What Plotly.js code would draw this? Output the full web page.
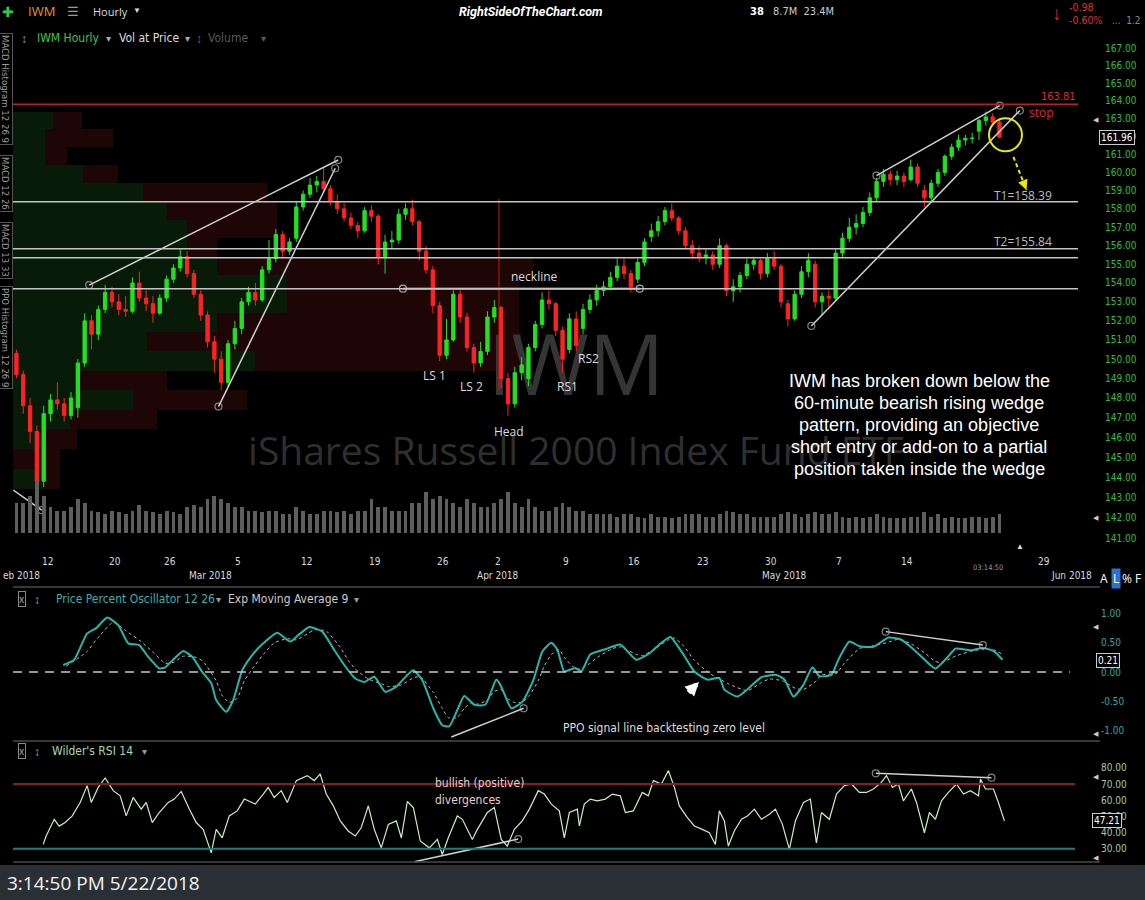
<!DOCTYPE html>
<html><head><meta charset="utf-8">
<script src="https://cdn.plot.ly/plotly-3.0.1.min.js"></script>
<style>html,body{margin:0;padding:0;background:#000;}#chart{width:1145px;height:900px;}</style>
</head><body><div id="chart"></div>
<script>
// ---------------- DATA ----------------
const tradingDays = ['2018-02-07','2018-02-08','2018-02-09','2018-02-12','2018-02-13','2018-02-14','2018-02-15','2018-02-16','2018-02-20','2018-02-21','2018-02-22','2018-02-23','2018-02-26','2018-02-27','2018-02-28','2018-03-01','2018-03-02','2018-03-05','2018-03-06','2018-03-07','2018-03-08','2018-03-09','2018-03-12','2018-03-13','2018-03-14','2018-03-15','2018-03-16','2018-03-19','2018-03-20','2018-03-21','2018-03-22','2018-03-23','2018-03-26','2018-03-27','2018-03-28','2018-03-29','2018-04-02','2018-04-03','2018-04-04','2018-04-05','2018-04-06','2018-04-09','2018-04-10','2018-04-11','2018-04-12','2018-04-13','2018-04-16','2018-04-17','2018-04-18','2018-04-19','2018-04-20','2018-04-23','2018-04-24','2018-04-25','2018-04-26','2018-04-27','2018-04-30','2018-05-01','2018-05-02','2018-05-03','2018-05-04','2018-05-07','2018-05-08','2018-05-09','2018-05-10','2018-05-11','2018-05-14','2018-05-15','2018-05-16','2018-05-17','2018-05-18','2018-05-21','2018-05-22'];
const futureDays = ['2018-05-23','2018-05-24','2018-05-25','2018-05-29','2018-05-30','2018-05-31','2018-06-01'];

// half-day bars (first bar = Feb 7 afternoon)
const open  = [150.3,149.2,147.6,146.3,143.8,147.2,147.9,147.7,147.1,147.5,149.8,152.0,151.3,152.6,153.5,153.0,152.6,152.5,154.0,153.2,152.9,152.4,153.2,154.2,154.8,155.4,154.5,153.4,152.3,150.9,150.0,148.8,150.8,151.6,153.0,153.5,153.1,154.7,155.3,156.6,155.7,156.4,158.1,158.8,159.3,159.5,159.1,158.4,158.0,157.5,157.1,156.8,157.9,157.6,155.4,156.2,156.3,157.7,158.0,157.3,155.7,154.7,152.8,150.2,151.0,153.4,152.2,150.6,149.8,150.4,152.2,152.7,149.0,147.7,149.3,149.0,150.6,151.8,153.1,152.9,151.5,150.5,152.1,151.6,152.6,153.1,153.6,153.8,154.3,154.9,154.5,154.2,155.1,156.5,156.8,157.3,157.9,157.5,156.8,156.0,155.6,155.4,155.5,155.0,156.0,153.6,153.8,154.4,155.0,155.2,154.5,155.3,154.9,152.9,152.1,153.4,154.6,155.0,153.0,153.3,153.2,155.6,156.4,157.0,157.2,157.8,158.6,159.5,159.9,159.6,159.8,159.6,160.3,159.0,158.6,159.4,160.0,160.9,161.4,161.8,161.9,162.3,162.9,163.1,162.8];
const high  = [150.5,149.4,148.0,146.6,147.6,148.2,148.8,148.0,148.3,150.0,152.4,152.3,152.8,153.9,153.8,153.4,153.3,154.3,154.6,153.6,153.3,153.4,154.4,155.0,155.8,155.7,154.7,153.6,152.5,151.2,150.4,151.0,152.0,153.2,153.8,154.0,154.9,156.3,156.9,156.8,156.4,158.4,159.0,159.7,159.8,160.3,159.3,158.8,158.3,157.8,157.3,158.1,158.2,157.7,156.6,156.8,158.0,158.3,158.5,157.4,156.0,154.9,153.0,152.1,153.6,153.6,152.4,150.8,150.9,152.5,153.1,152.8,149.3,149.6,150.1,150.8,152.0,153.5,153.6,153.0,151.7,152.4,152.5,152.9,153.4,153.9,154.1,154.6,155.3,155.3,154.7,155.3,156.4,157.2,157.6,158.1,158.3,157.6,157.0,156.3,156.0,155.8,155.7,156.4,156.1,154.2,154.6,155.3,155.4,155.3,155.6,155.7,155.0,153.1,153.6,154.9,155.6,155.2,153.5,153.6,155.8,156.7,157.5,157.7,158.1,158.9,159.7,160.2,160.1,160.1,160.0,160.7,160.5,159.3,159.6,160.2,161.0,161.6,162.1,162.1,162.2,163.0,163.4,163.3,163.0];
const low   = [149.0,147.2,145.7,142.8,143.5,146.8,147.4,146.8,146.9,147.0,149.6,150.5,151.0,152.4,152.7,152.3,152.2,152.4,153.0,152.5,151.9,152.3,153.0,154.0,154.6,154.3,153.2,152.0,150.6,149.3,148.4,148.6,150.5,151.3,152.8,152.8,153.0,154.5,155.1,155.4,155.5,156.2,157.9,158.6,158.9,158.9,158.2,157.7,157.3,156.9,156.4,156.7,157.3,155.0,154.5,155.8,156.1,157.4,157.1,155.2,154.5,152.4,149.9,150.0,150.9,151.9,150.4,149.3,149.6,150.2,151.9,148.5,147.1,147.5,148.9,148.6,150.4,151.6,152.6,151.2,149.3,150.3,150.4,151.3,152.4,152.8,153.3,153.6,154.1,154.2,153.5,154.0,154.9,156.2,156.5,157.1,157.3,156.6,155.8,155.3,155.1,155.0,154.7,154.8,153.3,153.0,153.5,154.2,154.7,154.2,154.3,154.7,152.7,151.7,152.0,153.2,154.3,152.7,152.3,152.6,153.0,155.4,156.2,156.6,157.0,157.6,158.4,159.2,159.3,159.3,159.2,159.5,159.2,158.1,158.4,159.2,159.8,160.7,161.2,161.5,161.6,161.8,162.6,162.6,161.9];
const close = [149.2,147.6,146.3,143.8,147.2,147.9,147.7,147.1,148.0,149.8,152.0,151.3,152.6,153.5,153.0,152.6,152.5,154.0,153.2,152.9,152.4,153.2,154.2,154.8,155.4,154.5,153.4,152.3,150.9,150.0,148.8,150.8,151.6,153.0,153.5,153.1,154.7,155.3,156.6,155.7,156.2,158.1,158.8,159.3,159.5,159.1,158.4,158.0,157.5,157.1,156.8,157.9,157.6,155.4,156.2,156.3,157.7,158.0,157.3,155.7,154.7,152.8,150.2,151.0,153.4,152.2,150.6,149.8,150.4,152.2,152.7,149.0,147.7,149.3,149.7,150.6,151.8,153.1,152.9,151.5,150.0,152.1,150.7,152.6,153.1,153.6,153.8,154.3,154.9,154.5,153.8,155.1,156.2,156.8,157.3,157.9,157.5,156.8,156.0,155.6,155.4,155.5,155.0,156.0,153.6,153.8,154.4,155.0,155.2,154.5,155.3,154.9,153.0,152.1,153.4,154.6,155.2,153.0,153.3,153.2,155.6,156.4,157.0,157.2,157.8,158.6,159.5,159.9,159.6,159.8,159.5,160.3,159.4,158.6,159.4,160.0,160.9,161.4,161.8,161.9,161.9,162.9,163.1,162.8,161.96];
// average hourly volume in each half-day (millions of shares)
const volume = [6.0,6.0,7.5,10.5,7.5,5.3,4.5,4.5,5.3,6.8,6.0,4.5,4.2,3.8,4.5,4.2,3.8,4.5,5.7,4.5,4.2,3.8,4.5,4.2,3.8,5.3,5.7,5.3,6.8,7.5,6.8,6.0,5.3,5.3,4.5,4.5,4.2,4.5,4.5,3.8,3.8,5.3,4.5,3.8,3.8,4.5,4.5,4.2,4.5,3.8,4.5,4.5,6.8,5.3,5.3,4.5,4.5,4.5,6.0,6.0,8.3,6.8,7.5,6.8,6.0,5.3,6.8,6.0,5.3,5.3,6.0,6.8,8.3,6.0,5.3,6.8,5.3,4.5,4.5,5.3,6.0,5.3,4.5,4.5,3.8,3.8,3.8,3.8,3.3,3.8,3.8,3.3,3.0,3.8,3.3,3.3,3.0,3.3,3.8,3.8,3.8,3.3,3.3,3.8,4.5,4.2,3.8,3.8,3.3,3.3,3.3,3.3,3.8,4.2,3.8,3.3,3.8,4.2,3.8,3.8,4.2,3.3,3.0,3.3,3.0,3.3,3.8,3.3,3.0,3.0,3.0,3.3,3.3,4.2,3.3,3.8,3.0,3.3,3.0,3.0,3.3,3.3,3.0,3.3,3.8];

// volume at price (bins of $1, millions of shares)
const vapCenters = [162.9,161.9,160.9,159.9,158.9,157.9,156.9,155.9,154.9,153.9,152.9,151.9,150.9,149.9,148.9,147.9,146.9,145.9,144.9,143.9];
const vapBinSize = 1.0;
const vapUp   = [20,16,16,35,65,77,87,87,102,137,137,102,67,121,33.5,60,28.5,13.5,0,15];
const vapDown = [14.5,34,11,17.5,62,55,45,15,158,116,116,151,187,132,43.5,57,43.5,18.5,23.5,8.5];

// Price Percent Oscillator (time in trading-day index)
const ppoT = [4.18,4.98,5.93,6.59,7.40,8.21,8.94,9.74,10.40,11.21,11.65,12.31,12.97,13.63,14.36,15.02,15.38,16.12,16.63,17.29,18.02,18.83,19.85,20.81,21.39,22.20,23.15,23.96,24.76,25.57,26.23,26.96,27.77,28.57,29.38,29.82,30.48,31.28,31.94,32.45,33.04,33.55,34.29,35.09,35.90,36.26,37.00,37.80,38.61,39.27,39.93,40.37,40.88,41.68,42.12,42.78,43.88,44.98,46.15,47.18,47.84,48.64,49.60,50.40,51.36,52.23,52.60,53.55,54.51,55.31,56.41,57.00,57.66,58.39,59.05,59.56,60.44,60.95,61.76,62.49,63.52,64.62,65.49,66.45,67.40,68.06,69.01,69.52,70.62,71.50,72.31,72.97];
const ppoV = [0.12,0.21,0.66,0.75,0.93,0.80,0.49,0.46,0.26,0.06,0.08,0.23,0.36,0.26,0.00,-0.19,-0.48,-0.68,-0.48,0.03,0.29,0.49,0.67,0.52,0.63,0.77,0.69,0.40,0.12,-0.11,-0.17,-0.08,-0.34,-0.25,-0.05,0.03,-0.14,-0.62,-0.91,-0.93,-0.65,-0.41,-0.56,-0.56,-0.13,-0.25,-0.62,-0.51,-0.14,0.35,0.50,0.38,0.01,0.07,0.01,0.30,0.39,0.47,0.21,0.33,0.47,0.60,0.30,0.01,-0.13,-0.10,-0.30,-0.42,-0.25,-0.09,-0.05,-0.13,-0.42,-0.22,0.08,-0.07,-0.05,0.21,0.52,0.44,0.43,0.59,0.56,0.39,0.18,0.06,0.27,0.40,0.37,0.41,0.36,0.21];
const sigT = [4.40,5.93,6.59,7.84,8.79,9.89,10.70,11.65,12.31,12.97,13.92,14.43,15.38,15.82,16.34,16.92,17.44,18.02,18.83,19.63,20.59,21.25,22.05,22.56,23.44,24.47,25.05,25.57,26.52,27.47,27.99,28.94,29.82,30.33,31.28,31.94,32.38,33.04,33.55,34.14,34.51,35.24,35.75,36.26,36.70,37.22,37.80,38.32,38.97,39.41,39.93,40.51,40.88,41.47,41.98,42.78,43.30,44.40,44.98,46.15,46.59,47.40,48.50,48.94,49.60,50.40,51.50,52.89,54.29,55.31,55.90,56.85,57.80,58.39,59.34,59.71,60.81,61.39,62.49,63.52,64.47,65.35,66.30,67.25,68.06,68.50,69.60,70.62,71.50,72.31,72.97];
const sigV = [0.10,0.35,0.55,0.85,0.70,0.52,0.35,0.15,0.17,0.27,0.25,0.18,-0.15,-0.40,-0.52,-0.45,-0.15,0.05,0.30,0.50,0.57,0.55,0.65,0.72,0.70,0.42,0.20,0.05,-0.12,-0.20,-0.25,-0.22,-0.10,-0.08,-0.35,-0.62,-0.78,-0.78,-0.62,-0.52,-0.55,-0.48,-0.33,-0.30,-0.45,-0.52,-0.52,-0.40,-0.15,0.10,0.30,0.38,0.25,0.10,0.05,0.15,0.25,0.40,0.43,0.30,0.28,0.38,0.55,0.58,0.45,0.20,-0.02,-0.20,-0.32,-0.18,-0.12,-0.15,-0.28,-0.30,-0.15,-0.05,-0.02,0.15,0.40,0.45,0.50,0.56,0.48,0.33,0.18,0.16,0.28,0.35,0.39,0.38,0.30];

// Wilder's RSI 14
const rsiT = [2.71,2.93,3.52,3.88,4.32,4.84,5.42,5.93,6.23,6.74,7.25,7.84,8.35,8.79,9.30,9.89,10.26,10.70,11.21,11.87,12.31,12.82,13.41,13.92,14.43,15.02,15.38,15.82,16.34,16.92,17.44,18.24,18.83,19.19,19.63,20.15,20.59,21.25,22.05,22.56,23.00,23.44,23.96,24.47,25.05,25.57,26.00,26.52,26.96,27.47,27.99,28.57,28.94,29.38,29.82,30.33,30.99,31.58,31.94,32.38,33.04,33.41,34.14,34.51,35.24,35.75,36.26,36.70,37.22,37.80,38.32,38.97,39.41,39.93,40.51,40.88,41.25,41.83,41.98,42.34,42.78,43.30,43.88,44.40,44.98,45.35,45.93,46.59,47.03,47.40,47.99,48.50,48.94,49.30,49.89,50.40,50.99,51.50,51.94,52.23,52.60,52.89,53.33,53.85,54.29,54.80,55.31,55.90,56.34,56.85,57.36,57.80,58.39,58.90,59.34,59.71,60.29,60.81,61.39,61.90,62.49,63.00,63.52,64.10,64.47,64.91,65.35,65.71,66.30,66.67,67.25,67.62,68.06,68.50,69.01,69.60,70.11,70.62,71.21,71.36,71.72,72.31,72.67,73.11];
const rsiV = [32.7,37.9,48.2,44.0,46.2,50.3,58.6,69.0,58.6,67.9,73.7,65.9,62.7,50.3,61.7,54.5,58.6,46.2,52.4,58.6,60.7,65.4,54.5,46.2,42.0,27.5,42.0,36.8,50.3,53.4,60.7,57.6,63.8,67.9,61.7,65.9,58.6,72.1,75.2,72.1,76.2,63.8,56.5,47.2,41.0,37.9,43.0,56.5,42.0,30.6,45.1,47.2,36.8,59.2,55.5,34.8,30.6,35.8,26.5,36.8,50.3,48.2,35.8,42.0,52.4,55.5,35.8,31.7,42.0,47.2,54.5,65.9,63.8,57.6,53.4,36.8,52.4,54.5,44.1,57.6,60.7,59.6,60.7,63.8,62.7,52.4,53.4,64.8,62.7,72.1,70.0,78.3,67.9,56.5,49.3,44.1,42.0,39.9,32.7,53.4,47.2,31.7,41.0,48.2,50.3,54.5,48.2,51.3,54.5,45.1,29.6,47.2,58.6,60.7,33.7,52.4,48.2,63.8,69.0,70.0,64.8,64.8,66.9,71.0,75.2,67.9,70.0,59.6,66.9,58.6,39.9,52.4,48.2,59.6,64.8,70.0,63.8,65.9,62.7,73.1,66.9,66.9,58.6,47.21];

// levels & drawings (trading-day index, price)
const stopLevel = 163.81, t1Level = 158.39, t2Level = 155.84, supportLevel = 155.35, necklineLevel = 153.7;
const trendT = [[6.08,24.32],[15.55,24.10],[0.52,2.60],[63.74,72.77],[58.97,74.24]];
const trendP = [[153.89,160.69],[147.56,160.23],[143.36,142.37],[159.82,163.74],[151.73,163.46]];
const necklineT = [29.06,46.40];
const headMarkT = [36.09,36.09], headMarkP = [158.56,148.4];
const breakT = [73.19], breakP = [162.09];
const targetT = [73.77,74.73], targetP = [160.86,159.03];
const ppoDivT = [[32.6,37.9],[64.42,71.53]], ppoDivV = [[-1.11,-0.62],[0.69,0.46]];
const rsiDivT = [[29.9,37.5],[63.69,72.16]], rsiDivV = [[22.0,36.0],[76.6,73.9]];

const priceTicks = [141,142,143,144,145,146,147,148,149,150,151,152,153,154,155,156,157,158,159,160,161,162,163,164,165,166,167];
const ppoTicks = [1,0.5,0,-0.5,-1];
const rsiTicks = [80,70,60,50,40,30];
const dayTickDates = ['2018-02-12','2018-02-20','2018-02-26','2018-03-05','2018-03-12','2018-03-19','2018-03-26','2018-04-02','2018-04-09','2018-04-16','2018-04-23','2018-04-30','2018-05-07','2018-05-14','2018-05-29'];
const dayTickText  = ['12','20','26','5','12','19','26','2','9','16','23','30','7','14','29'];
const monthTickDates = ['2018-03-01','2018-04-02','2018-05-01'];
const monthTickText  = ['Mar 2018','Apr 2018','May 2018'];
const noteLines = ['IWM has broken down below the','60-minute bearish rising wedge','pattern, providing an objective','short entry or add-on to a partial','position taken inside the wedge'];

// ---------------- BUILD ----------------
const W = 1145, H = 900, L = 13, R = 1078;
const FN = '"Open Sans","Noto Sans",Arial,sans-serif';
const FC = '"DejaVu Sans Condensed","Liberation Sans Narrow",Roboto,sans-serif';
const xRange = [0.5, 78.5];
const priceRange = [140.52, 168.19];
const lgTop = Math.log10(priceRange[1]), lgBot = Math.log10(priceRange[0]);
const mainTop = 28, mainBot = 548;
function pyToPrice(py){ return Math.pow(10, lgTop - (py-mainTop)/(mainBot-mainTop)*(lgTop-lgBot)); }
function px2p(px){ return (px-L)/(R-L); }
function py2p(py){ return 1-py/H; }
function T(text, px, py, o){
  o = o || {};
  const f = Object.assign({family:FN, size:12, color:'#dddddd'}, o.font||{});
  const a = Object.assign({text:text, x:px2p(px), y:py2p(py), xref:'paper', yref:'paper', showarrow:false, xanchor:'center', yanchor:'middle'}, o);
  a.font = f; return a;
}

const allDays = tradingDays.concat(futureDays);
const n = Math.min(open.length, high.length, low.length, close.length, volume.length);
const barX = [];
for (let b=0; b<n; b++){ const d=Math.floor((b+1)/2); const half=(b+1)%2; barX.push(d+0.25+0.5*half); }

const traces = [];
// volume at price (base subplot, drawn beneath everything)
const vapW = vapCenters.map(() => vapBinSize);
traces.push({type:'bar', orientation:'h', x:vapUp, y:vapCenters, width:vapW, xaxis:'x', yaxis:'y', marker:{color:'#081b08', line:{width:0}}, hoverinfo:'skip'});
traces.push({type:'bar', orientation:'h', x:vapDown, y:vapCenters, width:vapW, xaxis:'x', yaxis:'y', marker:{color:'#1f0606', line:{width:0}}, hoverinfo:'skip'});
// watermarks (base subplot)
const wmX = (576-L)/2;
traces.push({type:'scatter', mode:'text', x:[wmX], y:[pyToPrice(374)], text:['IWM'], xaxis:'x', yaxis:'y', textposition:'middle center', textfont:{family:FN, size:84, color:'#353535'}, hoverinfo:'skip', cliponaxis:false});
traces.push({type:'scatter', mode:'text', x:[wmX], y:[pyToPrice(455)], text:['iShares Russell 2000 Index Fund ETF'], xaxis:'x', yaxis:'y', textposition:'middle center', textfont:{family:FN, size:39, color:'#2f2f2f'}, hoverinfo:'skip', cliponaxis:false});
// volume bars
traces.push({type:'bar', x:barX.slice(0,n), y:volume.slice(0,n), width:0.28, xaxis:'x2', yaxis:'y2', marker:{color:'#5e5e5e', line:{width:0}}, hoverinfo:'skip'});
// candles
traces.push({type:'candlestick', x:barX.slice(0,n), open:open.slice(0,n), high:high.slice(0,n), low:low.slice(0,n), close:close.slice(0,n), xaxis:'x2', yaxis:'y',
  increasing:{line:{color:'#22e022', width:1}, fillcolor:'#22e022'}, decreasing:{line:{color:'#ff2222', width:1}, fillcolor:'#ff2222'}, whiskerwidth:0, hoverinfo:'skip'});
// neckline & head marker
traces.push({type:'scatter', mode:'lines', x:headMarkT, y:headMarkP, xaxis:'x2', yaxis:'y', line:{color:'#c81818', width:1}, hoverinfo:'skip'});
traces.push({type:'scatter', mode:'lines+markers', x:necklineT, y:[necklineLevel, necklineLevel], xaxis:'x2', yaxis:'y', line:{color:'#dd44dd', width:2.5}, marker:{symbol:'circle-open', size:7, color:'#aaaaaa', line:{width:1.2}}, hoverinfo:'skip'});
// wedge / trend lines
const trendEnds = [[7,7],[7,7],[0,7],[7,7],[7,7]];
trendT.forEach((t,i)=>{
  traces.push({type:'scatter', mode:'lines+markers', x:t, y:trendP[i], xaxis:'x2', yaxis:'y', line:{color:'#d0d0d0', width:1.5}, marker:{symbol:'circle-open', size:trendEnds[i], color:'#bbbbbb', line:{width:1.2}}, hoverinfo:'skip', cliponaxis:false});
});
// breakdown circle and target arrow
traces.push({type:'scatter', mode:'markers', x:breakT, y:breakP, xaxis:'x2', yaxis:'y', marker:{symbol:'circle-open', size:33, color:'#e8e800', line:{width:2}}, hoverinfo:'skip'});
traces.push({type:'scatter', mode:'lines', x:targetT, y:targetP, xaxis:'x2', yaxis:'y', line:{color:'#e8e800', width:2, dash:'4px,3px'}, hoverinfo:'skip', cliponaxis:false});
// PPO
traces.push({type:'scatter', mode:'lines', x:sigT, y:sigV, xaxis:'x3', yaxis:'y3', line:{color:'#bdbdbd', width:1, dash:'dot', shape:'spline', smoothing:0.5}, hoverinfo:'skip'});
traces.push({type:'scatter', mode:'lines', x:ppoT, y:ppoV, xaxis:'x3', yaxis:'y3', line:{color:'#22b8b0', width:2, shape:'spline', smoothing:0.5}, hoverinfo:'skip'});
const ppoEnds = [[0,7],[7,7]];
ppoDivT.forEach((t,i)=>{
  traces.push({type:'scatter', mode:'lines+markers', x:t, y:ppoDivV[i], xaxis:'x3', yaxis:'y3', line:{color:'#d0d0d0', width:1.5}, marker:{symbol:'circle-open', size:ppoEnds[i], color:'#bbbbbb', line:{width:1.2}}, hoverinfo:'skip', cliponaxis:false});
});
// RSI
traces.push({type:'scatter', mode:'lines', x:rsiT, y:rsiV, xaxis:'x4', yaxis:'y4', line:{color:'#c8f0c0', width:1.2}, hoverinfo:'skip'});
const rsiEnds = [[0,7],[7,7]];
rsiDivT.forEach((t,i)=>{
  traces.push({type:'scatter', mode:'lines+markers', x:t, y:rsiDivV[i], xaxis:'x4', yaxis:'y4', line:{color:'#d0d0d0', width:1.5}, marker:{symbol:'circle-open', size:rsiEnds[i], color:'#bbbbbb', line:{width:1.2}}, hoverinfo:'skip', cliponaxis:false});
});

// ---------------- SHAPES ----------------
const shapes = [];
function hline(yref, v, color, width, x1px, dash){
  shapes.push({type:'line', xref:'paper', yref:yref, x0:0, x1:px2p(x1px||R), y0:v, y1:v, line:{color:color, width:width, dash:dash||'solid'}});
}
hline('y', stopLevel, '#cc1a1a', 1.5);
hline('y', t1Level, '#c4c4c4', 1.5);
hline('y', t2Level, '#c4c4c4', 1.5);
hline('y', supportLevel, '#c4c4c4', 1.5);
hline('y', necklineLevel, '#c4c4c4', 1.5);
hline('y3', 0, '#c8c8c8', 1.5, 1070, '9px,7px');
hline('y4', 70, '#8e1a1a', 2, 1075);
hline('y4', 30, '#1a7f80', 2, 1075);
function sep(py){ shapes.push({type:'line', xref:'paper', yref:'paper', x0:px2p(13), x1:px2p(1100), y0:py2p(py), y1:py2p(py), line:{color:'#4a4a4a', width:1.5}}); }
sep(587); sep(741); sep(862);
shapes.push({type:'rect', xref:'paper', yref:'paper', x0:px2p(0), x1:px2p(W), y0:py2p(H), y1:py2p(865), fillcolor:'#2a2f36', line:{width:0}});

// ---------------- ANNOTATIONS ----------------
const ann = [];
// header
ann.push(T('✚', 8, 11, {font:{color:'#2ecc40', size:14}}));
ann.push(T('IWM', 41, 11, {font:{color:'#f0902a', size:13}}));
ann.push(T('☰', 73, 11, {font:{color:'#9a9a9a', size:13}}));
ann.push(T('Hourly', 110, 11, {font:{color:'#dddddd', size:11}}));
ann.push(T('▼', 137, 10, {font:{color:'#dddddd', size:8}}));
ann.push(T('<b><i>RightSideOfTheChart.com</i></b>', 531, 11, {font:{color:'#ffffff', size:12.5, family:'Roboto,Arial,sans-serif'}}));
ann.push(T('<b>38</b>', 757, 11, {font:{color:'#ffffff', size:11, family:FC}}));
ann.push(T('8.7M  23.4M', 803, 11, {font:{color:'#cccccc', size:11, family:FC}}));
ann.push(T('<b>↓</b>', 1057, 13, {font:{color:'#e02020', size:19}}));
ann.push(T('-0.98', 1081, 7, {font:{color:'#e03030', size:10.5, family:FC}}));
ann.push(T('-0.60%', 1085, 20, {font:{color:'#e03030', size:10.5, family:FC}}));
ann.push(T('...  1.2', 1126, 20, {font:{color:'#888888', size:10, family:FC}}));
// second row
ann.push(T('↕', 24, 38, {font:{color:'#999999', size:12}}));
ann.push(T('IWM Hourly', 68, 38, {font:{color:'#3cc83c', size:12, family:FC}}));
ann.push(T('▾', 108, 38, {font:{color:'#aaaaaa', size:10}}));
ann.push(T('Vol at Price', 149, 38, {font:{color:'#dddddd', size:12, family:FC}}));
ann.push(T('▾', 187, 38, {font:{color:'#aaaaaa', size:10}}));
ann.push(T('↕', 199, 38, {font:{color:'#666666', size:12}}));
ann.push(T('Volume', 228, 38, {font:{color:'#5a5a5a', size:12, family:FC}}));
ann.push(T('▾', 263, 38, {font:{color:'#5a5a5a', size:10}}));
// left tabs
[['MACD Histogram 12 26 9',89],['MACD 12 26',183],['MACD 13 33',250],['PPO Histogram 12 26 9',337]].forEach(t=>{
  ann.push(T(t[0], 6, t[1], {textangle:90, bordercolor:'#555555', borderwidth:1, borderpad:1, font:{color:'#9a9a9a', size:9.5, family:FC}}));
});
// price panel
ann.push(T('163.81', 1078, 97, {xanchor:'right', font:{color:'#e02828', size:11, family:FC}}));
ann.push(T('stop', 1041, 112, {font:{color:'#e02828', size:12}}));
ann.push(T('T1=158.39', 1023, 196, {font:{color:'#bbbbbb', size:12}}));
ann.push(T('T2=155.84', 1023, 241, {font:{color:'#bbbbbb', size:12}}));
ann.push(T('neckline', 534, 277, {font:{color:'#dddddd', size:12}}));
ann.push(T('LS 1', 434, 375, {font:{color:'#dddddd', size:12}}));
ann.push(T('LS 2', 471, 386, {font:{color:'#dddddd', size:12}}));
ann.push(T('Head', 509, 431, {font:{color:'#dddddd', size:12}}));
ann.push(T('RS1', 567, 387, {font:{color:'#dddddd', size:12}}));
ann.push(T('RS2', 589, 359, {font:{color:'#dddddd', size:12}}));
noteLines.forEach((s,i)=>{
  ann.push(T(s, 919, 381+22*i, {font:{color:'#ffffff', size:18, family:'"Liberation Sans",Arial,sans-serif'}}));
});
ann.push({x:targetT[1], y:Math.log10(targetP[1]), xref:'x2', yref:'y', text:'', showarrow:true, ax:-4, ay:-10, arrowhead:2, arrowsize:1, arrowwidth:2, arrowcolor:'#e8e800'});
ann.push(T('161.96', 1117, 137, {bordercolor:'#cccccc', borderwidth:1, borderpad:1, bgcolor:'#000000', font:{color:'#ffffff', size:10, family:FC}}));
ann.push(T('◀', 1096, 119, {font:{color:'#cccccc', size:7}}));
ann.push(T('◀', 1096, 517, {font:{color:'#cccccc', size:7}}));
ann.push(T('▲', 1020, 545, {font:{color:'#dddddd', size:8}}));
// x axis labels
dayTickDates.forEach((d,i)=>{
  ann.push({x:allDays.indexOf(d), y:py2p(561), xref:'x2', yref:'paper', text:dayTickText[i], showarrow:false, xanchor:'center', yanchor:'middle', font:{family:FC, size:10, color:'#d8d8d8'}});
});
monthTickDates.forEach((d,i)=>{
  ann.push({x:allDays.indexOf(d), y:py2p(575), xref:'x2', yref:'paper', text:monthTickText[i], showarrow:false, xanchor:'center', yanchor:'middle', font:{family:FC, size:10, color:'#d8d8d8'}});
});
ann.push(T('eb 2018', 1, 575, {xanchor:'left', font:{family:FC, size:10, color:'#d8d8d8'}}));
ann.push(T('Jun 2018', 1094, 575, {xanchor:'right', font:{family:FC, size:10, color:'#d8d8d8'}}));
ann.push(T('03:14:50', 988, 567, {font:{family:FC, size:7.5, color:'#999999'}}));
ann.push(T('A', 1104, 578, {font:{color:'#ffffff', size:12}}));
ann.push(T('L', 1116, 578, {bgcolor:'#2f6fd0', font:{color:'#ffffff', size:12}}));
ann.push(T('%', 1127, 578, {font:{color:'#ffffff', size:12}}));
ann.push(T('F', 1138, 578, {font:{color:'#ffffff', size:12}}));
// PPO panel
ann.push(T('x', 22, 599, {bordercolor:'#888888', borderwidth:1, borderpad:0, font:{color:'#aaaaaa', size:10}}));
ann.push(T('↕', 37, 599, {font:{color:'#999999', size:12}}));
ann.push(T('Price Percent Oscillator 12 26', 135, 599, {font:{color:'#29b6ae', size:12, family:FC}}));
ann.push(T('▾', 218, 599, {font:{color:'#999999', size:10}}));
ann.push(T('Exp Moving Average 9', 288, 599, {font:{color:'#cccccc', size:12, family:FC}}));
ann.push(T('▾', 356, 599, {font:{color:'#999999', size:10}}));
ann.push(T('PPO signal line backtesting zero level', 664, 728, {font:{color:'#dddddd', size:12, family:FC}}));
ann.push({x:px2p(699), y:py2p(682), xref:'paper', yref:'paper', text:'', showarrow:true, ax:-12, ay:12, arrowhead:2, arrowsize:0.55, arrowwidth:5, arrowcolor:'#ffffff'});
ann.push(T('0.21', 1108, 660, {bordercolor:'#cccccc', borderwidth:1, borderpad:1, bgcolor:'#000000', font:{color:'#ffffff', size:10, family:FC}}));
ann.push(T('◀', 1096, 626, {font:{color:'#cccccc', size:7}}));
ann.push(T('◀', 1096, 733, {font:{color:'#cccccc', size:7}}));
// RSI panel
ann.push(T('x', 22, 751, {bordercolor:'#888888', borderwidth:1, borderpad:0, font:{color:'#aaaaaa', size:10}}));
ann.push(T('↕', 37, 751, {font:{color:'#999999', size:12}}));
ann.push(T("Wilder's RSI 14", 92, 751, {font:{color:'#a8d8a8', size:12, family:FC}}));
ann.push(T('▾', 144, 751, {font:{color:'#999999', size:10}}));
ann.push(T('bullish (positive)', 433, 783, {xanchor:'left', font:{color:'#e8cccc', size:12, family:FC}}));
ann.push(T('divergences', 433, 800, {xanchor:'left', font:{color:'#e8cccc', size:12, family:FC}}));
ann.push(T('47.21', 1107, 820, {bordercolor:'#cccccc', borderwidth:1, borderpad:1, bgcolor:'#000000', font:{color:'#ffffff', size:10, family:FC}}));
ann.push(T('◀', 1096, 776, {font:{color:'#cccccc', size:7}}));
ann.push(T('◀', 1096, 857, {font:{color:'#cccccc', size:7}}));
// bottom bar
ann.push(T('3:14:50 PM 5/22/2018', 5, 883, {xanchor:'left', font:{color:'#f2f2f2', size:19, family:FN}}));

// ---------------- LAYOUT ----------------
const hidden = {visible:false, showgrid:false, zeroline:false, fixedrange:true};
function dom(a,b){ return [1-b/H, 1-a/H]; }
const layout = {
  width:W, height:H, margin:{l:L, r:W-R, t:0, b:0}, paper_bgcolor:'#000000', plot_bgcolor:'#000000',
  showlegend:false, barmode:'stack', bargap:0, font:{family:FN, color:'#dddddd'},
  xaxis: Object.assign({}, hidden, {domain:[0,1], range:[0,(R-L)/2], anchor:'y'}),
  xaxis2: Object.assign({}, hidden, {overlaying:'x', range:xRange, anchor:'y', rangeslider:{visible:false}}),
  yaxis: {type:'log', domain:dom(mainTop, mainBot), range:[lgBot, lgTop], side:'right', anchor:'x',
    tickmode:'array', tickvals:priceTicks, ticktext:priceTicks.map(v=>v.toFixed(2)), ticks:'', ticklabelstandoff:26,
    tickfont:{family:FC, size:10, color:'#26c426'}, showgrid:false, zeroline:false, showline:false, fixedrange:true},
  yaxis2: Object.assign({}, hidden, {overlaying:'y', range:[-3,101]}),
  xaxis3: Object.assign({}, hidden, {domain:[0,1], range:xRange, anchor:'y3'}),
  yaxis3: {domain:dom(606,740), range:[-1.162,1.128], side:'right', anchor:'x3', tickmode:'array', tickvals:ppoTicks, ticktext:ppoTicks.map(v=>v.toFixed(2)),
    ticks:'', ticklabelstandoff:22, tickfont:{family:FC, size:10, color:'#22aaa2'}, showgrid:false, zeroline:false, showline:false, fixedrange:true},
  xaxis4: Object.assign({}, hidden, {domain:[0,1], range:xRange, anchor:'y4'}),
  yaxis4: {domain:dom(758,862), range:[21.85,86.05], side:'right', anchor:'x4', tickmode:'array', tickvals:rsiTicks, ticktext:rsiTicks.map(v=>v.toFixed(2)),
    ticks:'', ticklabelstandoff:22, tickfont:{family:FC, size:10, color:'#a6c8a6'}, showgrid:false, zeroline:false, showline:false, fixedrange:true},
  shapes:shapes, annotations:ann
};
Plotly.newPlot('chart', traces, layout, {displayModeBar:false, staticPlot:true});
</script></body></html>
